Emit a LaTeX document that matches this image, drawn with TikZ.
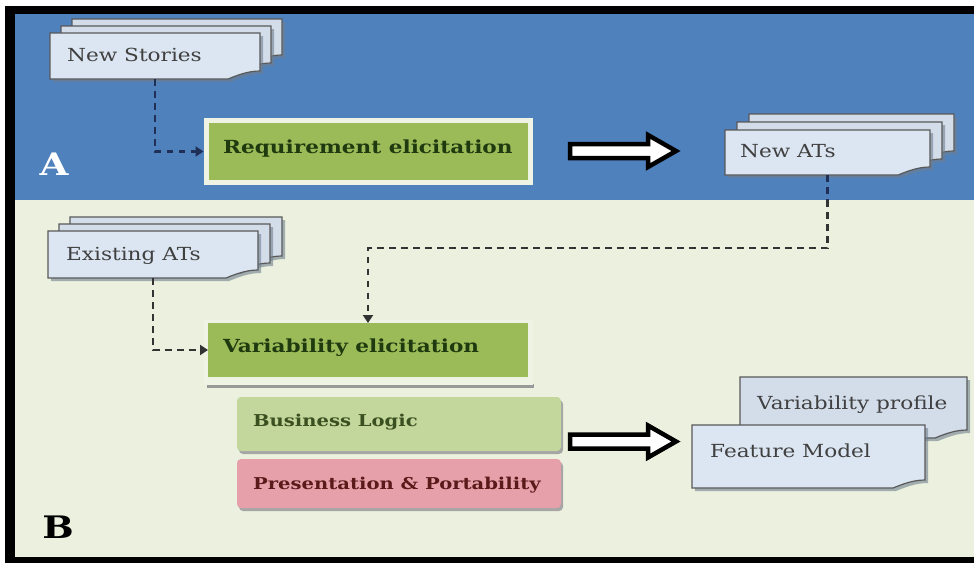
\documentclass[tikz,border=0pt]{standalone}
\usepackage{fontspec}
\setmainfont[FakeStretch=1.2]{DejaVu Serif}
\usetikzlibrary{arrows.meta}
\definecolor{bgblue}{HTML}{4F81BD}
\definecolor{bgbeige}{HTML}{EBF1DE}
\definecolor{cardfill}{HTML}{DCE6F2}
\definecolor{cardback}{HTML}{D3DDEA}
\definecolor{cardline}{HTML}{595959}
\definecolor{cardtext}{HTML}{404040}
\definecolor{cardshadow}{HTML}{6F7F8F}
\definecolor{boxgreen}{HTML}{9BBB59}
\definecolor{greenrim}{HTML}{EEF3E3}
\definecolor{greentext}{HTML}{1F3A0E}
\definecolor{blgreen}{HTML}{C3D69B}
\definecolor{bltext}{HTML}{3B5020}
\definecolor{pinkbox}{HTML}{E6A0AA}
\definecolor{pinktext}{HTML}{5A1A1A}
\definecolor{navydash}{HTML}{1F2F55}
\definecolor{greydash}{HTML}{333333}
\newcommand{\onecard}[5]{%
  \fill[cardshadow,opacity=0.6] ({#2+3},{#3+3}) -- ({#4+3},{#3+3}) -- ({#4+3},{#5-5}) .. controls ({#4-9},{#5-5}) and ({#4-19},{#5-1}) .. ({#4-29},{#5+3}) -- ({#2+3},{#5+3}) -- cycle;
  \filldraw[fill=#1,draw=cardline,line width=1.2] (#2,#3) -- (#4,#3) -- (#4,{#5-8}) .. controls ({#4-12},{#5-8}) and ({#4-22},{#5-4}) .. ({#4-32},#5) -- (#2,#5) -- cycle;}
\newcommand{\hollowarrow}[2]{%
  \filldraw[fill=white,draw=black,line width=4.5,line join=miter] ({#1+2},{#2-7}) -- ({#1+80},{#2-7}) -- ({#1+80},{#2-16}) -- ({#1+108},#2) -- ({#1+80},{#2+16}) -- ({#1+80},{#2+7}) -- ({#1+2},{#2+7}) -- cycle;}
\tikzset{
  frame/.style={inner sep=0,outer sep=0},
  cardtxt/.style={anchor=base west,text=cardtext,font=\fontsize{18}{20}\selectfont,inner sep=0},
  boldtxt/.style={anchor=base west,font=\bfseries\fontsize{18}{20}\selectfont,inner sep=0},
  smallbold/.style={anchor=base west,font=\bfseries\fontsize{16.3}{19}\selectfont,inner sep=0},
  dashbase/.style={line width=2.6,dash pattern=on 6.5pt off 5.5pt},
  tip/.style={-{Triangle[length=8pt,width=10pt]}},
}
\begin{document}
\begin{tikzpicture}[x=1pt,y=-1pt]
\useasboundingbox (0,0) rectangle (974,563);
\fill[white] (0,0) rectangle (974,563);
\fill[black] (5,6) rectangle (974,563);
\fill[bgblue] (15,14) rectangle (974,200);
\fill[bgbeige] (15,200) rectangle (974,557);

% ---------- A region
\onecard{cardback}{72}{19}{282}{63}
\onecard{cardback}{61}{26}{271}{71}
\onecard{cardfill}{50}{33}{260}{79}
\node[frame,minimum width=210,minimum height=46] (ns) at (155,56) {};
\node[cardtxt] (nstext) at (67,61.5) {New Stories};

\node[fill=boxgreen,draw=greenrim,line width=5,minimum width=324,minimum height=62] (req) at (368,151.5) {};
\node[boldtxt,text=greentext] (reqtext) at (223,153) {Requirement elicitation};

\hollowarrow{568}{151}

\onecard{cardback}{749}{114}{954}{159}
\onecard{cardback}{737}{122}{942}{167}
\onecard{cardfill}{725}{130}{930}{175}
\node[frame,minimum width=205,minimum height=45] (nat) at (827.5,152.5) {};
\node[cardtxt] (nattext) at (740,157.5) {New ATs};

\node[text=white,font=\bfseries\fontsize{31}{34}\selectfont,inner sep=0] (labA) at (54,164) {A};

\draw[dashbase,tip,draw=navydash] (ns.south) |- (req.west);

% ---------- B region
\onecard{cardback}{70}{217}{282}{264}
\onecard{cardback}{59}{224}{270}{271}
\onecard{cardfill}{48}{231}{258}{278}
\node[frame,minimum width=210,minimum height=47] (ex) at (153,254.5) {};
\node[cardtxt] (extext) at (66,260.5) {Existing ATs};

\fill[black!40] (207,384) rectangle (534,388);
\fill[greenrim] (204,320) rectangle (533,385);
\node[fill=boxgreen,minimum width=320,minimum height=54,inner sep=0,outer sep=0] (var) at (368,350) {};
\node[boldtxt,text=greentext] (vartext) at (223,352.5) {Variability elicitation};

\coordinate (edge) at (827.5,200);
\coordinate (bend) at (827.5,248);
\draw[dashbase,draw=navydash] (nat.south) -- (edge);
\draw[dashbase,tip,draw=greydash] (edge) -- (bend) -| (var.north);
\draw[dashbase,tip,draw=greydash] (ex.south) |- (var.west);

\fill[black!35,rounded corners=4] (239,400) rectangle (563,454);
\node[fill=blgreen,rounded corners=4,minimum width=324,minimum height=54,inner sep=0] (bl) at (399,424) {};
\node[smallbold,text=bltext] (bltxt) at (253,426.5) {Business Logic};

\fill[black!35,rounded corners=4] (239,462) rectangle (563,511);
\node[fill=pinkbox,rounded corners=4,minimum width=324,minimum height=49,inner sep=0] (pp) at (399,483.5) {};
\node[smallbold,text=pinktext] (pptxt) at (253,489) {Presentation \& Portability};

\hollowarrow{568}{441.5}

\onecard{cardback}{740}{377}{967}{438}
\node[frame,minimum width=227,minimum height=61] (vp) at (853.5,407.5) {};
\node[cardtxt] (vptext) at (757,409.5) {Variability profile};
\onecard{cardfill}{692}{425}{925}{488}
\node[frame,minimum width=233,minimum height=63] (fm) at (808.5,456.5) {};
\node[cardtxt] (fmtext) at (710,457) {Feature Model};

\node[text=black,font=\bfseries\fontsize{31}{34}\selectfont,inner sep=0] (labB) at (58,527) {B};
\end{tikzpicture}
\end{document}
